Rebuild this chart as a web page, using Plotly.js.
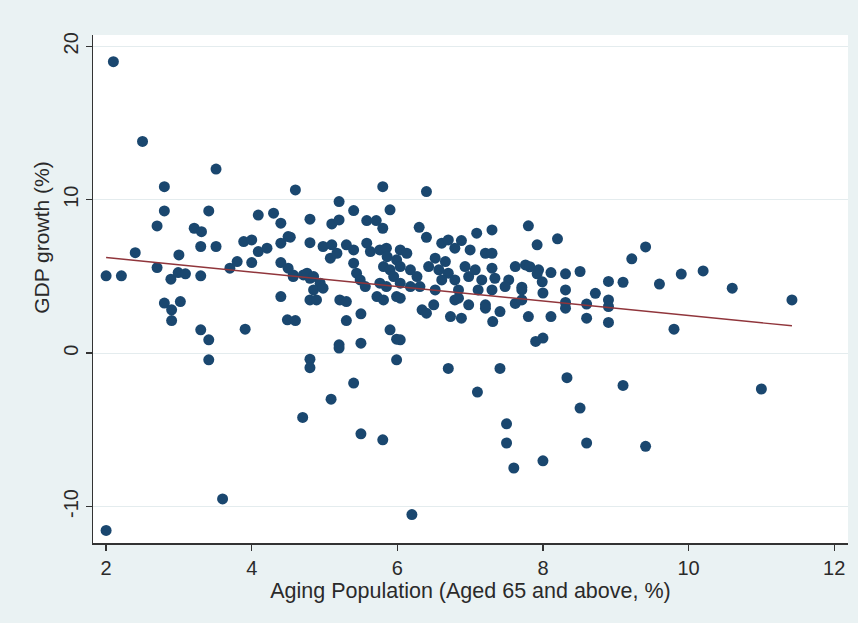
<!DOCTYPE html>
<html>
<head>
<meta charset="utf-8">
<script src="https://cdn.plot.ly/plotly-3.0.1.min.js"></script>
<style>
  html, body { margin: 0; padding: 0; background: #eaf2f3; }
  #chart { width: 858px; height: 623px; }
</style>
</head>
<body>
<div id="chart"></div>
<script>
// Aging population (aged 65+, %) for each observation
const agingPct = [
  2.1, 2.5, 2.8, 3.51, 2.0, 2.21, 2.4, 2.7, 2.8, 2.7, 2.89, 2.99, 3.09, 3.0, 3.3, 3.41, 3.21, 3.31, 3.3, 3.51,
  2.8, 3.02, 2.9, 2.9, 3.3, 3.41, 3.41, 3.7, 3.8, 3.91, 3.89, 4.0, 4.0, 3.6, 2.0,
  4.09, 4.09, 4.21, 4.3, 4.4, 4.4, 4.5, 4.4, 4.5, 4.57, 4.4, 4.49, 4.6, 4.6, 4.53, 4.8, 4.8, 4.98, 4.7, 4.8,
  4.8, 4.57, 4.71, 4.8, 4.76, 4.85, 4.94, 4.85, 4.98, 4.8, 4.89,
  5.1, 5.2, 5.2, 5.4, 5.1, 5.3, 5.4, 5.58, 5.58, 5.71, 5.8, 5.8, 5.9, 5.08, 5.17, 5.4, 5.63, 5.76, 5.85, 5.86,
  5.81, 5.9, 5.95, 5.44, 5.49, 5.56, 5.76, 5.85, 5.21, 5.3, 5.72, 5.81, 5.99, 5.3, 5.5, 5.9, 5.99, 5.2, 5.2, 5.5,
  5.99, 5.09, 5.4, 5.5, 5.8,
  6.04, 6.13, 5.99, 6.04, 6.18, 6.27, 6.04, 6.18, 6.31, 6.3, 6.4, 6.4, 6.61, 6.7, 6.88, 7.0, 6.79, 6.52, 6.66, 6.43,
  6.57, 6.7, 6.93, 6.61, 6.79, 6.98, 6.84, 6.52, 6.79, 6.98, 6.5, 6.34, 6.4, 6.73, 6.88, 6.84, 6.04, 6.04, 6.7, 6.2,
  7.09, 7.3, 7.21, 7.3, 7.07, 7.3, 7.16, 7.34, 7.53, 7.11, 7.3, 7.48, 7.71, 7.21, 7.21, 7.62, 7.71, 7.31, 7.41, 7.62,
  7.76, 7.82, 7.94, 7.92, 7.99, 7.71, 7.8, 7.92, 7.8, 7.9, 8.0, 7.1, 7.41, 7.5, 7.5, 7.6, 8.0,
  8.0, 8.11, 8.31, 8.51, 8.2, 8.31, 8.31, 8.31, 8.72, 8.6, 8.9, 8.9, 8.9, 9.1, 8.6, 8.9, 8.11, 8.33, 8.51, 8.6,
  9.1, 9.22, 9.41, 9.41, 9.6, 9.9, 10.2, 10.6, 9.8, 11.0, 11.42
];
// GDP growth (%) for each observation
const gdpGrowth = [
  19.0, 13.8, 10.85, 12.0, 5.04, 5.04, 6.55, 8.29, 9.27, 5.58, 4.82, 5.25, 5.17, 6.4, 5.04, 9.27, 8.14, 7.92, 6.95, 6.95,
  3.26, 3.36, 2.82, 2.12, 1.52, 0.87, -0.44, 5.54, 5.97, 1.56, 7.27, 7.38, 5.9, -9.51, -11.56,
  9.0, 6.62, 6.84, 9.12, 8.47, 7.17, 7.6, 5.9, 5.54, 4.99, 3.69, 2.17, 2.12, 10.64, 7.56, 8.73, 7.2, 6.95, -4.19, -0.4,
  -0.95, 5.1, 5.1, 4.88, 5.21, 4.99, 4.56, 4.12, 4.23, 3.47, 3.47,
  8.42, 8.68, 9.88, 9.29, 7.06, 7.06, 6.73, 7.17, 8.64, 8.64, 8.14, 10.85, 9.34, 6.19, 6.51, 5.86, 6.62, 6.73, 6.84, 6.29,
  5.64, 5.43, 4.99, 5.21, 4.77, 4.34, 4.56, 4.34, 3.47, 3.36, 3.69, 3.47, 3.69, 2.12, 2.56, 1.52, 0.91, 0.54, 0.33, 0.65,
  -0.44, -3.0, -1.95, -5.26, -5.65,
  6.73, 6.51, 6.08, 5.64, 5.43, 4.99, 4.56, 4.34, 4.34, 8.2, 7.55, 10.53, 7.17, 7.38, 7.34, 6.73, 6.84, 6.19, 5.97, 5.64,
  5.43, 5.21, 5.64, 4.77, 4.77, 4.99, 4.12, 4.12, 3.47, 3.15, 3.15, 2.82, 2.6, 2.38, 2.28, 3.58, 3.58, 0.87, -1.0, -10.53,
  7.82, 8.03, 6.51, 6.51, 5.43, 5.54, 4.77, 4.88, 4.77, 4.12, 4.12, 4.34, 4.12, 3.15, 2.93, 3.24, 3.47, 2.06, 2.71, 5.64,
  5.75, 5.63, 5.43, 5.17, 4.65, 4.3, 8.3, 7.06, 2.38, 0.76, 0.98, -2.54, -1.0, -4.61, -5.86, -7.49, -7.02,
  3.92, 5.25, 5.17, 5.32, 7.45, 4.12, 3.3, 2.93, 3.9, 3.2, 4.67, 3.47, 3.04, 4.62, 2.28, 2.0, 2.38, -1.6, -3.58, -5.86,
  -2.11, 6.15, 6.92, -6.08, 4.5, 5.15, 5.36, 4.23, 1.56, -2.34, 3.47
];
// Fitted line end points
const fitX = [2.0, 11.42];
const fitY = [6.23, 1.78];

const xTicks = [2, 4, 6, 8, 10, 12];
const yTicks = [-10, 0, 10, 20];
const xTitle = 'Aging Population (Aged 65 and above, %)';
const yTitle = 'GDP growth (%)';

const font = '"Liberation Sans", Arial, sans-serif';
const textColor = '#2a2a2a';

const traces = [
  {
    type: 'scatter', mode: 'markers',
    x: agingPct, y: gdpGrowth,
    marker: { color: '#1a476f', size: 11, line: { width: 0 } },
    hoverinfo: 'x+y', showlegend: false
  },
  {
    type: 'scatter', mode: 'lines',
    x: fitX, y: fitY,
    line: { color: '#90353b', width: 1.4 },
    showlegend: false
  }
];

const layout = {
  width: 858, height: 623,
  paper_bgcolor: '#eaf2f3',
  plot_bgcolor: '#ffffff',
  margin: { l: 93, r: 10, t: 35, b: 80 },
  font: { family: font, size: 20, color: textColor },
  xaxis: {
    range: [1.82, 12.19],
    tickvals: xTicks, ticktext: xTicks.map(String),
    ticks: 'outside', ticklen: 6, tickwidth: 1.3, tickcolor: '#333',
    showline: true, linecolor: '#333', linewidth: 1.5,
    showgrid: false, zeroline: false,
    tickfont: { family: font, size: 20, color: textColor },
    title: { text: xTitle, font: { family: font, size: 21.5, color: textColor }, standoff: 5 },
    automargin: false
  },
  yaxis: {
    range: [-12.38, 20.74],
    tickvals: yTicks, ticktext: yTicks.map(String),
    tickangle: -90,
    ticks: 'outside', ticklen: 6, tickwidth: 1.3, tickcolor: '#333',
    showline: true, linecolor: '#333', linewidth: 1.5,
    showgrid: true, gridcolor: '#e4ecee', gridwidth: 1,
    zeroline: false,
    tickfont: { family: font, size: 20, color: textColor },
    automargin: false
  },
  annotations: [
    {
      text: yTitle, textangle: -90, showarrow: false,
      xref: 'paper', yref: 'paper',
      x: -0.068, y: 0.602, xanchor: 'center', yanchor: 'middle',
      font: { family: font, size: 21, color: textColor }
    }
  ]
};

Plotly.newPlot('chart', traces, layout, { staticPlot: true, displayModeBar: false });
</script>
</body>
</html>
